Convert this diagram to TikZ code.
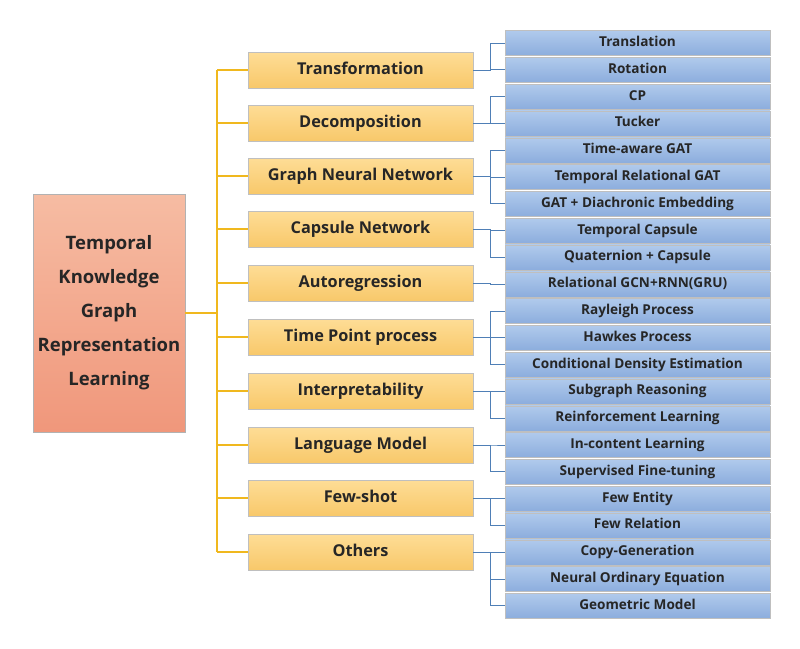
\documentclass[tikz,border=0pt]{standalone}
\usepackage{fontspec}
\setmainfont{Open Sans}
\definecolor{rootTop}{HTML}{F6BCA3}
\definecolor{rootBot}{HTML}{F0977B}
\definecolor{midTop}{HTML}{FEDD96}
\definecolor{midBot}{HTML}{F8C86A}
\definecolor{leafTop}{HTML}{B0CAEC}
\definecolor{leafBot}{HTML}{8CADDD}
\definecolor{gold}{HTML}{F0B81E}
\definecolor{steel}{HTML}{4F7FB6}
\begin{document}
\begin{tikzpicture}[x=1pt,y=-1pt,
                rootbox/.style={rectangle,draw=black!30,top color=rootTop,bottom color=rootBot,
                minimum width=152pt,minimum height=238pt,align=center,
                font=\fontsize{18.5}{34}\selectfont\bfseries,text=black!85},
                midbox/.style={rectangle,draw=black!25,top color=midTop,bottom color=midBot,
                minimum width=225pt,minimum height=36pt,inner sep=0pt,
                text height=12pt,text depth=3.5pt,
                font=\fontsize{16.3}{18}\selectfont\bfseries,text=black!85},
                leaf/.style={rectangle,draw=black!25,top color=leafTop,bottom color=leafBot,
                minimum width=265pt,minimum height=25pt,inner sep=0pt,
                text height=10pt,text depth=3pt,
                font=\fontsize{13.6}{15}\selectfont\bfseries,text=black!85},
                trunk/.style={draw=gold,line width=1.4pt},
                twig/.style={draw=steel,line width=1pt}]
                \useasboundingbox (0,0) rectangle (800,648);
                % root and first level
                \node (root) at (109,313) [rootbox] {Temporal\\Knowledge\\Graph\\Representation\\Learning};
                \node (m1) at (360.5,70) [midbox] {Transformation};
                \node (m2) at (360.5,123) [midbox] {Decomposition};
                \node (m3) at (360.5,176) [midbox] {Graph Neural Network};
                \node (m4) at (360.5,229) [midbox] {Capsule Network};
                \node (m5) at (360.5,283) [midbox] {Autoregression};
                \node (m6) at (360.5,337) [midbox] {Time Point process};
                \node (m7) at (360.5,391) [midbox] {Interpretability};
                \node (m8) at (360.5,445) [midbox] {Language Model};
                \node (m9) at (360.5,498) [midbox] {Few-shot};
                \node (m10) at (360.5,552) [midbox] {Others};
                % second level
                \node (r1) at (637.5,43) [leaf] {Translation};
                \node (r2) at (637.5,69.8) [leaf] {Rotation};
                \node (r3) at (637.5,96.6) [leaf] {CP};
                \node (r4) at (637.5,123.4) [leaf] {Tucker};
                \node (r5) at (637.5,150.2) [leaf] {Time-aware GAT};
                \node (r6) at (637.5,177) [leaf] {Temporal Relational GAT};
                \node (r7) at (637.5,203.8) [leaf] {GAT + Diachronic Embedding};
                \node (r8) at (637.5,230.6) [leaf] {Temporal Capsule};
                \node (r9) at (637.5,257.4) [leaf] {Quaternion + Capsule};
                \node (r10) at (637.5,284.2) [leaf] {Relational GCN+RNN(GRU)};
                \node (r11) at (637.5,311) [leaf] {Rayleigh Process};
                \node (r12) at (637.5,337.8) [leaf] {Hawkes Process};
                \node (r13) at (637.5,364.6) [leaf] {Conditional Density Estimation};
                \node (r14) at (637.5,391.4) [leaf] {Subgraph Reasoning};
                \node (r15) at (637.5,418.2) [leaf] {Reinforcement Learning};
                \node (r16) at (637.5,445) [leaf] {In-content Learning};
                \node (r17) at (637.5,471.8) [leaf] {Supervised Fine-tuning};
                \node (r18) at (637.5,498.6) [leaf] {Few Entity};
                \node (r19) at (637.5,525.4) [leaf] {Few Relation};
                \node (r20) at (637.5,552.2) [leaf] {Copy-Generation};
                \node (r21) at (637.5,579) [leaf] {Neural Ordinary Equation};
                \node (r22) at (637.5,605.8) [leaf] {Geometric Model};
                % connectors
                \coordinate (s) at (217,313);
                \coordinate (b) at (490,0);
                \draw[trunk] (root.east) -- (s);
                \draw[trunk] (s |- m1) -- (s |- m10);
                \draw[trunk] (s |- m1) -- (m1.west);
                \draw[trunk] (s |- m2) -- (m2.west);
                \draw[trunk] (s |- m3) -- (m3.west);
                \draw[trunk] (s |- m4) -- (m4.west);
                \draw[trunk] (s |- m5) -- (m5.west);
                \draw[trunk] (s |- m6) -- (m6.west);
                \draw[trunk] (s |- m7) -- (m7.west);
                \draw[trunk] (s |- m8) -- (m8.west);
                \draw[trunk] (s |- m9) -- (m9.west);
                \draw[trunk] (s |- m10) -- (m10.west);
                \draw[twig] (m1.east) -- (b |- m1) |- (r1.west);
                \draw[twig] (m1.east) -- (b |- m1) |- (r2.west);
                \draw[twig] (m2.east) -- (b |- m2) |- (r3.west);
                \draw[twig] (m2.east) -- (b |- m2) |- (r4.west);
                \draw[twig] (m3.east) -- (b |- m3) |- (r5.west);
                \draw[twig] (m3.east) -- (b |- m3) |- (r6.west);
                \draw[twig] (m3.east) -- (b |- m3) |- (r7.west);
                \draw[twig] (m4.east) -- (b |- m4) |- (r8.west);
                \draw[twig] (m4.east) -- (b |- m4) |- (r9.west);
                \draw[twig] (m5.east) -- (b |- m5) |- (r10.west);
                \draw[twig] (m6.east) -- (b |- m6) |- (r11.west);
                \draw[twig] (m6.east) -- (b |- m6) |- (r12.west);
                \draw[twig] (m6.east) -- (b |- m6) |- (r13.west);
                \draw[twig] (m7.east) -- (b |- m7) |- (r14.west);
                \draw[twig] (m7.east) -- (b |- m7) |- (r15.west);
                \draw[twig] (m8.east) -- (b |- m8) |- (r16.west);
                \draw[twig] (m8.east) -- (b |- m8) |- (r17.west);
                \draw[twig] (m9.east) -- (b |- m9) |- (r18.west);
                \draw[twig] (m9.east) -- (b |- m9) |- (r19.west);
                \draw[twig] (m10.east) -- (b |- m10) |- (r20.west);
                \draw[twig] (m10.east) -- (b |- m10) |- (r21.west);
                \draw[twig] (m10.east) -- (b |- m10) |- (r22.west);
            \end{tikzpicture}
\end{document}
